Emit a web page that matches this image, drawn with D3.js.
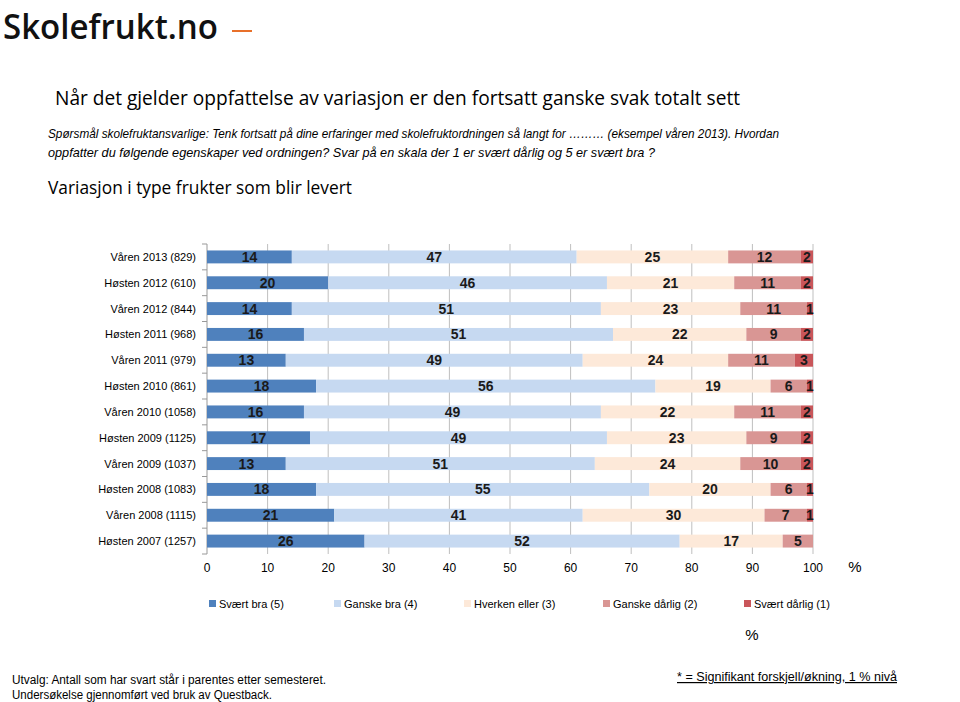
<!DOCTYPE html>
<html><head><meta charset="utf-8">
<script src="https://cdn.jsdelivr.net/npm/d3@7"></script>
<style>body{margin:0;background:#fff}svg{display:block}</style>
</head><body>
<script>
const categories = ["Våren 2013 (829)","Høsten 2012 (610)","Våren 2012 (844)","Høsten 2011 (968)","Våren 2011 (979)","Høsten 2010 (861)","Våren 2010 (1058)","Høsten 2009 (1125)","Våren 2009 (1037)","Høsten 2008 (1083)","Våren 2008 (1115)","Høsten 2007 (1257)"];
const seriesNames = ["Svært bra (5)","Ganske bra (4)","Hverken eller (3)","Ganske dårlig (2)","Svært dårlig (1)"];
const svaertBra    = [14,20,14,16,13,18,16,17,13,18,21,26];
const ganskeBra    = [47,46,51,51,49,56,49,49,51,55,41,52];
const hverkenEller = [25,21,23,22,24,19,22,23,24,20,30,17];
const ganskeDarlig = [12,11,11,9,11,6,11,9,10,6,7,5];
const svaertDarlig = [2,2,1,2,3,1,2,2,2,1,1,0];
const xTicks = [0,10,20,30,40,50,60,70,80,90,100];
const colors = ["#4f81bd","#c6d9f1","#fde9d9","#d99694","#c9565a"];

const W=960,H=702;
const svg=d3.select("body").append("svg").attr("width",W).attr("height",H);
const narrow="'Liberation Sans Narrow','Liberation Sans',Arial,sans-serif";

// Logo
svg.append("text").attr("x",3).attr("y",39).attr("font-family","'Open Sans',sans-serif").attr("font-weight",600)
  .attr("font-size",34).attr("fill","#111").attr("textLength",215).attr("lengthAdjust","spacingAndGlyphs").text("Skolefrukt.no");
svg.append("line").attr("x1",232).attr("x2",252).attr("y1",31).attr("y2",31).attr("stroke","#e8702a").attr("stroke-width",2);

// Title & texts
function txt(x,y,s,opts){
  const t=svg.append("text").attr("x",x).attr("y",y).text(s)
   .attr("font-family",opts.ff||"'Liberation Sans',Arial,sans-serif").attr("font-size",opts.fs).attr("fill",opts.fill||"#000");
  if(opts.it) t.attr("font-style","italic");
  if(opts.fw) t.attr("font-weight",opts.fw);
  if(opts.len) t.attr("textLength",opts.len).attr("lengthAdjust","spacingAndGlyphs");
  if(opts.anchor) t.attr("text-anchor",opts.anchor);
  if(opts.ul) t.attr("text-decoration","underline");
  return t;
}
txt(55,105,"Når det gjelder oppfattelse av variasjon er den fortsatt ganske svak totalt sett",{fs:20,len:685,ff:"'Open Sans',sans-serif"});
txt(48,138,"Spørsmål skolefruktansvarlige:  Tenk fortsatt på dine erfaringer med skolefruktordningen så langt for ……… (eksempel våren 2013). Hvordan",{fs:13,it:true,len:731,ff:narrow});
txt(48,157,"oppfatter du følgende egenskaper ved ordningen? Svar på en skala der 1 er svært dårlig og 5 er svært bra ?",{fs:13,it:true,len:607,ff:narrow});
txt(48,194,"Variasjon i type frukter som blir levert",{fs:18,len:304,ff:"'Open Sans',sans-serif"});

// Chart
const x0=207,x1=813,yTop=244,yBot=554;
const x=d3.scaleLinear().domain([0,100]).range([x0,x1]);
const y=d3.scaleBand().domain(categories).range([yTop,yBot]).paddingInner(0.5).paddingOuter(0.25);
const yOuter=d3.scaleBand().domain(categories).range([yTop,yBot]);

const g=svg.append("g");
g.selectAll("line.grid").data(xTicks.slice(1)).join("line")
 .attr("x1",d=>x(d)).attr("x2",d=>x(d)).attr("y1",yTop).attr("y2",yBot)
 .attr("stroke","#bfbfbf").attr("stroke-width",1);
g.append("line").attr("x1",x0).attr("x2",x0).attr("y1",yTop).attr("y2",yBot).attr("stroke","#999");
g.selectAll("line.ct").data(d3.range(categories.length+1)).join("line")
 .attr("x1",x0-5).attr("x2",x0).attr("y1",i=>yTop+i*yOuter.step()).attr("y2",i=>yTop+i*yOuter.step()).attr("stroke","#999");

const allSeries=[svaertBra,ganskeBra,hverkenEller,ganskeDarlig,svaertDarlig];
const rows=categories.map((c,i)=>({c,vals:allSeries.map(s=>s[i])}));
const stack=d3.stack().keys(d3.range(5)).value((d,k)=>d.vals[k]);
const stacked=stack(rows);

stacked.forEach((layer,k)=>{
  g.selectAll("rect.s"+k).data(layer).join("rect")
   .attr("x",d=>x(d[0])).attr("width",d=>x(d[1])-x(d[0]))
   .attr("y",d=>y(d.data.c)).attr("height",y.bandwidth()).attr("fill",colors[k]);
  g.selectAll("text.s"+k).data(layer.filter(d=>d[1]-d[0]>0)).join("text")
   .attr("x",d=>(x(d[0])+x(d[1]))/2).attr("y",d=>y(d.data.c)+y.bandwidth()/2+5)
   .attr("text-anchor","middle").attr("font-family",narrow).attr("font-size",14).attr("font-weight","bold")
   .attr("fill","#1a1a1a").text(d=>d[1]-d[0]);
});

g.selectAll("text.cat").data(categories).join("text")
 .attr("x",196).attr("y",d=>y(d)+y.bandwidth()/2+4).attr("text-anchor","end")
 .attr("font-family",narrow).attr("font-size",11).attr("fill","#000").text(d=>d);

g.selectAll("text.xt").data(xTicks).join("text")
 .attr("x",d=>x(d)).attr("y",572).attr("text-anchor","middle")
 .attr("font-family",narrow).attr("font-size",12).attr("fill","#000").text(d=>d);
txt(855,572,"%",{fs:15,anchor:"middle",ff:narrow});

const legX=[209,334,464,603,744];
seriesNames.forEach((n,k)=>{
  svg.append("rect").attr("x",legX[k]).attr("y",600).attr("width",7).attr("height",7).attr("fill",colors[k]);
  txt(legX[k]+10,608,n,{fs:11,ff:narrow});
});
txt(752,640,"%",{fs:15,anchor:"middle",ff:narrow});

txt(12,684,"Utvalg:  Antall som har svart står i parentes etter semesteret.",{fs:12,ff:narrow,len:314});
txt(12,699,"Undersøkelse gjennomført ved bruk av Questback.",{fs:12,ff:narrow,len:260});
txt(677,681,"* = Signifikant forskjell/økning, 1 % nivå",{fs:12,ff:narrow,len:220,ul:true});
</script>
</body></html>
